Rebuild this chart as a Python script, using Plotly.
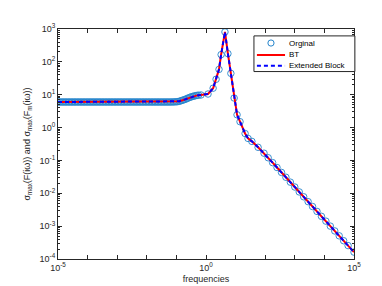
import plotly.graph_objects as go

# frequencies (rad/s) and sigma values
freq = [
    1.000e-5, 1.122e-5, 1.259e-5, 1.413e-5, 1.585e-5, 1.778e-5, 1.995e-5, 2.239e-5, 2.512e-5, 2.818e-5,
    3.162e-5, 3.548e-5, 3.981e-5, 4.467e-5, 5.012e-5, 5.623e-5, 6.310e-5, 7.079e-5, 7.943e-5, 8.913e-5,
    1.000e-4, 1.122e-4, 1.259e-4, 1.413e-4, 1.585e-4, 1.778e-4, 1.995e-4, 2.239e-4, 2.512e-4, 2.818e-4,
    3.162e-4, 3.548e-4, 3.981e-4, 4.467e-4, 5.012e-4, 5.623e-4, 6.310e-4, 7.079e-4, 7.943e-4, 8.913e-4,
    1.000e-3, 1.122e-3, 1.259e-3, 1.413e-3, 1.585e-3, 1.778e-3, 1.995e-3, 2.239e-3, 2.512e-3, 2.818e-3,
    3.162e-3, 3.548e-3, 3.981e-3, 4.467e-3, 5.012e-3, 5.623e-3, 6.310e-3, 7.079e-3, 7.943e-3, 8.913e-3,
    1.000e-2, 1.122e-2, 1.259e-2, 1.413e-2, 1.585e-2, 1.778e-2, 1.995e-2, 2.239e-2, 2.512e-2, 2.818e-2,
    3.162e-2, 3.548e-2, 3.981e-2, 4.467e-2, 5.012e-2, 5.623e-2, 6.310e-2, 7.079e-2, 7.943e-2, 8.913e-2,
    0.1000, 0.1122, 0.1259, 0.1413, 0.1585, 0.1778, 0.1995, 0.2239, 0.2512, 0.2818,
    0.3162, 0.3548, 0.3981, 0.4467, 0.5012, 0.5623,
    0.676, 1.17,
    1.74, 2.19, 2.75, 3.24, 4.37, 5.50, 6.92, 8.91, 11.2, 14.1, 20.9, 26.3, 35.5, 57.5, 91.2,
    126, 178, 251, 355, 501, 708, 1000, 1413, 1995, 2818, 3981, 5623, 7943,
    11220, 15850, 22390, 31620, 44670, 63100, 100000,
]
sigma_orig = [
    6.0, 6.0, 6.0, 6.0, 6.0, 6.0, 6.0, 6.0, 6.0, 6.0,
    6.0, 6.0, 6.0, 6.0, 6.0, 6.0, 6.0, 6.0, 6.0, 6.0,
    6.0, 6.0, 6.0, 6.0, 6.0, 6.0, 6.0, 6.0, 6.0, 6.0,
    6.0, 6.0, 6.0, 6.0, 6.0, 6.0, 6.0, 6.0, 6.0, 6.0,
    6.0, 6.0, 6.0, 6.0, 6.0, 6.0, 6.0, 6.0, 6.0, 6.0,
    6.0, 6.0, 6.0, 6.0, 6.0, 6.0, 6.0, 6.0, 6.0, 6.0,
    6.0, 6.0, 6.0, 6.0, 6.0, 6.0, 6.0, 6.0, 6.0, 6.0,
    6.0, 6.0, 6.0, 6.0, 6.0, 6.0, 6.0, 6.01, 6.03, 6.06,
    6.10, 6.17, 6.31, 6.53, 6.76, 7.00, 7.24, 7.59, 7.94, 8.28,
    8.61, 8.87, 9.12, 9.33, 9.55, 9.66,
    9.8, 10.5,
    15.8, 29.5, 58.9, 166, 813, 178, 44.7, 7.94, 2.45, 1.51, 0.66, 0.468, 0.38, 0.251, 0.166,
    0.1205, 0.0857, 0.0608, 0.0432, 0.0307, 0.0218, 0.0155, 0.0110, 0.00782, 0.00556,
    0.00395, 0.00281, 0.00199, 0.00142, 0.00100, 0.000714, 0.000507, 0.000360, 0.000256, 0.000162,
]
sigma_bt = sigma_orig
sigma_ext = sigma_orig

series_names = ["Orginal", "BT", "Extended Block"]

x_tick_vals = [1e-5, 1e-4, 1e-3, 1e-2, 1e-1, 1e0, 1e1, 1e2, 1e3, 1e4, 1e5]
x_tick_text = ["10<sup>-5</sup>", "", "", "", "", "10<sup>0</sup>", "", "", "", "", "10<sup>5</sup>"]
y_tick_vals = [1e-4, 1e-3, 1e-2, 1e-1, 1e0, 1e1, 1e2, 1e3]
y_tick_text = ["10<sup>-4</sup>", "10<sup>-3</sup>", "10<sup>-2</sup>", "10<sup>-1</sup>",
               "10<sup>0</sup>", "10<sup>1</sup>", "10<sup>2</sup>", "10<sup>3</sup>"]
y_minor = [m * d for d in y_tick_vals[:-1] for m in range(2, 10)]

MARKER_BLUE = "#2585CC"
RED = "#FF0000"
BLUE = "#0000FF"
AXIS = "#262626"
FONT = "Liberation Sans, Arial, sans-serif"

fig = go.Figure()
fig.add_trace(go.Scatter(
    x=freq, y=sigma_orig, mode="markers", name=series_names[0],
    marker=dict(symbol="circle-open", size=6.5, color=MARKER_BLUE, line=dict(width=0.9)),
))
fig.add_trace(go.Scatter(
    x=freq, y=sigma_bt, mode="lines", name=series_names[1],
    line=dict(color=RED, width=2),
))
fig.add_trace(go.Scatter(
    x=freq, y=sigma_ext, mode="lines", name=series_names[2],
    line=dict(color=BLUE, width=2, dash="4px,3px"),
))

axis_common = dict(
    type="log", showgrid=False, zeroline=False, showline=True, linecolor=AXIS,
    linewidth=1, mirror="ticks", ticks="inside", ticklen=4, tickcolor=AXIS,
    tickfont=dict(family=FONT, size=9, color=AXIS),
    tickmode="array",
)

# compact legend box (paper coordinates), MATLAB style
lx0, lx1, ly0, ly1 = 0.662, 1.003, 0.815, 0.970
row_y = [0.939, 0.887, 0.840]
samp_x0, samp_x1, text_x = 0.672, 0.767, 0.774
shapes = [
    dict(type="rect", xref="paper", yref="paper", x0=lx0, x1=lx1, y0=ly0, y1=ly1,
         line=dict(color=AXIS, width=1), fillcolor="white", layer="above"),
    dict(type="circle", xref="paper", yref="paper",
         x0=(samp_x0 + samp_x1) / 2 - 0.0105, x1=(samp_x0 + samp_x1) / 2 + 0.0105,
         y0=row_y[0] - 0.0135, y1=row_y[0] + 0.0135,
         line=dict(color=MARKER_BLUE, width=1), layer="above"),
    dict(type="line", xref="paper", yref="paper", x0=samp_x0, x1=samp_x1,
         y0=row_y[1], y1=row_y[1], line=dict(color=RED, width=2), layer="above"),
    dict(type="line", xref="paper", yref="paper", x0=samp_x0, x1=samp_x1,
         y0=row_y[2], y1=row_y[2], line=dict(color=BLUE, width=2, dash="4px,3px"), layer="above"),
]
annotations = [
    dict(xref="paper", yref="paper", x=text_x, y=yy, text=name, showarrow=False,
         xanchor="left", yanchor="middle", font=dict(family=FONT, size=8, color="#000000"))
    for name, yy in zip(series_names, row_y)
]

fig.update_layout(
    width=382, height=286,
    margin=dict(l=50, r=36, t=21, b=32),
    paper_bgcolor="white", plot_bgcolor="white",
    font=dict(family=FONT, size=9, color=AXIS),
    showlegend=False,
    shapes=shapes,
    annotations=annotations,
    xaxis=dict(
        **axis_common, range=[-5, 5], tickvals=x_tick_vals, ticktext=x_tick_text,
        title=dict(text="frequencies", standoff=3, font=dict(size=9)),
    ),
    yaxis=dict(
        **axis_common, range=[-4, 3], tickvals=y_tick_vals, ticktext=y_tick_text,
        minor=dict(tickvals=y_minor, ticks="inside", ticklen=2, tickcolor=AXIS),
        title=dict(text="σ<sub>max</sub>(F(iω)) and σ<sub>max</sub>(F<sub>m</sub>(iω))",
                   standoff=7, font=dict(size=9)),
    ),
)

fig.write_html("out.html")
